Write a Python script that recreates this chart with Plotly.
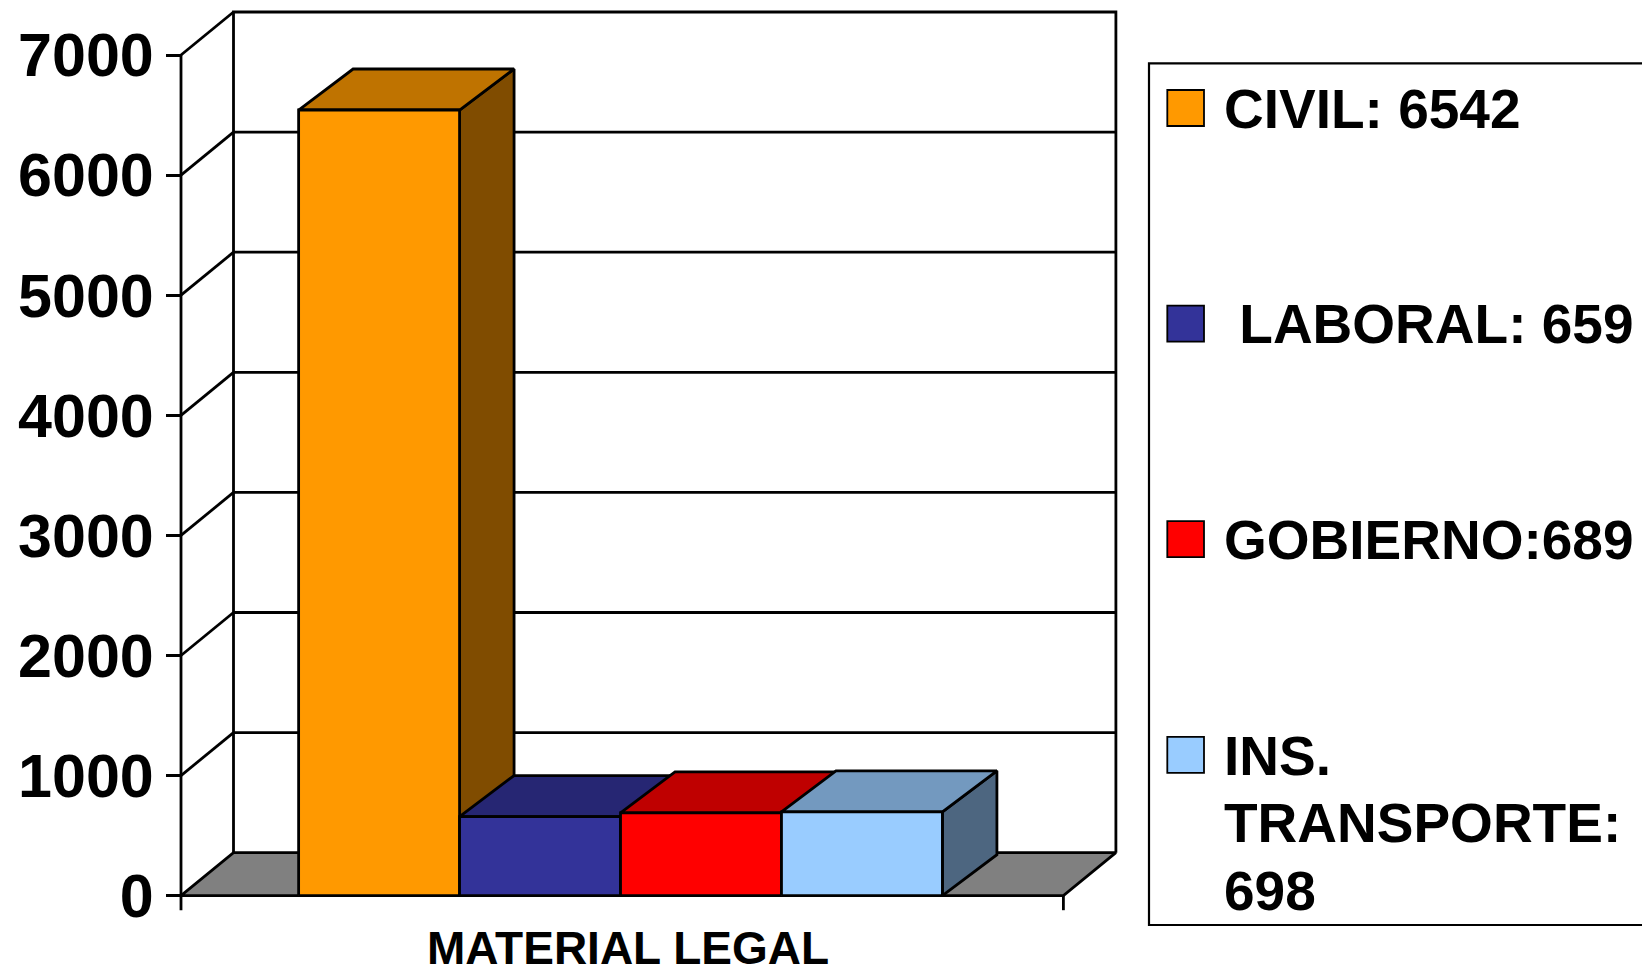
import plotly.graph_objects as go

# datos del grafico
categories = ["CIVIL", "LABORAL", "GOBIERNO", "INS. TRANSPORTE"]
values = [6542, 659, 689, 698]
legend_labels = ["CIVIL: 6542", "\u00a0LABORAL: 659", "GOBIERNO:689", "INS.<br>TRANSPORTE:<br>698"]
y_ticks = [0, 1000, 2000, 3000, 4000, 5000, 6000, 7000]
x_title = "MATERIAL LEGAL"

# colores estilo Excel (frente, arriba, lado)
front_colors = ["#FF9900", "#333399", "#FF0000", "#99CCFF"]
top_colors = ["#BF7300", "#262673", "#BF0000", "#7399BF"]
side_colors = ["#804C00", "#1A1A4D", "#800000", "#4D6680"]
floor_color = "#808080"

W, H = 1642, 973
FONT = "Liberation Sans, Arial, sans-serif"

# escala: x=0..1 es el borde frontal del piso, y en unidades del eje
X0_PX, PX_PER_X = 181, 882.4
Y0_PX, PX_PER_Y = 895.7, 0.1201
x_range = [-X0_PX / PX_PER_X, (W - X0_PX) / PX_PER_X]
y_range = [-(H - Y0_PX) / PX_PER_Y, Y0_PX / PX_PER_Y]

# profundidad 3D
DXF, DYF = 52.5 / PX_PER_X, 43 / PX_PER_Y   # marco
DXB, DYB = 54.5 / PX_PER_X, 41 / PX_PER_Y   # barras
BAR_W, LEFT_GAP = 0.1824, 0.1333
TICK_DOWN = 14.5 / PX_PER_Y
LW = 2.8


def poly(xs, ys, fill):
    return go.Scatter(x=xs + [xs[0]], y=ys + [ys[0]], mode="lines", fill="toself",
                      fillcolor=fill, line=dict(color="black", width=LW),
                      hoverinfo="skip", showlegend=False)


def px_x(p):
    return p / W


def px_y(p):
    return 1 - p / H


fig = go.Figure()

# piso
fig.add_trace(poly([0, 1, 1 + DXF, DXF], [0, 0, DYF, DYF], floor_color))

# pared del fondo, lineas de la pared lateral y ejes
top = y_ticks[-1]
lx, ly = [], []
lx += [DXF, DXF, 1 + DXF, 1 + DXF, None]
ly += [DYF, top + DYF, top + DYF, DYF, None]
for t in y_ticks[1:-1]:
    lx += [DXF, 1 + DXF, None]
    ly += [t + DYF, t + DYF, None]
for t in y_ticks[1:]:
    lx += [0, DXF, None]
    ly += [t, t + DYF, None]
lx += [0, 0, None, 1, 1]
ly += [top, -TICK_DOWN, None, 0, -TICK_DOWN]
fig.add_trace(go.Scatter(x=lx, y=ly, mode="lines", line=dict(color="black", width=LW),
                         hoverinfo="skip", showlegend=False))

# barras 3D
for i, v in enumerate(values):
    x0 = LEFT_GAP + i * BAR_W
    x1 = x0 + BAR_W
    fig.add_trace(poly([x1, x1, x1 + DXB, x1 + DXB], [0, v, v + DYB, DYB], side_colors[i]))
    fig.add_trace(poly([x0, x1, x1 + DXB, x0 + DXB], [v, v, v + DYB, v + DYB], top_colors[i]))
    fig.add_trace(poly([x0, x1, x1, x0], [0, 0, v, v], front_colors[i]))

# leyenda
shapes = [dict(type="rect", xref="paper", yref="paper", x0=px_x(1149), x1=1.1,
               y0=px_y(925), y1=px_y(63.3), line=dict(color="black", width=2.2),
               fillcolor="rgba(0,0,0,0)", layer="above")]
annotations = []
ROW0, ROW_STEP, LINE_STEP = 108, 215.6, 67.5
for i, lab in enumerate(legend_labels):
    cy = ROW0 + i * ROW_STEP
    shapes.append(dict(type="rect", xref="paper", yref="paper",
                       x0=px_x(1167.3), x1=px_x(1204), y0=px_y(cy + 18), y1=px_y(cy - 18),
                       fillcolor=front_colors[i], line=dict(color="black", width=1.8)))
    for j, line in enumerate(lab.split("<br>")):
        annotations.append(dict(text=line, xref="paper", yref="paper",
                                x=px_x(1221.7), y=px_y(cy + 0.8 + j * LINE_STEP),
                                xanchor="left", yanchor="middle", showarrow=False,
                                font=dict(family=FONT, size=55, color="black", weight="bold")))

# titulo del eje x
annotations.append(dict(text=x_title, xref="paper", yref="paper",
                        x=px_x(627.5), y=px_y(948.3), xanchor="center", yanchor="middle",
                        showarrow=False,
                        font=dict(family=FONT, size=46, color="black", weight="bold")))

fig.update_layout(
    width=W, height=H,
    margin=dict(l=0, r=0, t=0, b=0),
    paper_bgcolor="white", plot_bgcolor="white",
    shapes=shapes, annotations=annotations,
    showlegend=False,
    xaxis=dict(range=x_range, visible=False, domain=[0, 1]),
    yaxis=dict(range=y_range, anchor="free", position=X0_PX / W, showgrid=False,
               zeroline=False, showline=False, tickvals=y_ticks, ticks="outside",
               ticklen=15, tickwidth=LW, tickcolor="black", ticklabelstandoff=0,
               tickfont=dict(family=FONT, size=61, color="black", weight="bold")),
)

fig.write_html("out.html", config={"displayModeBar": False},
               post_script="document.body.style.margin='0';")
